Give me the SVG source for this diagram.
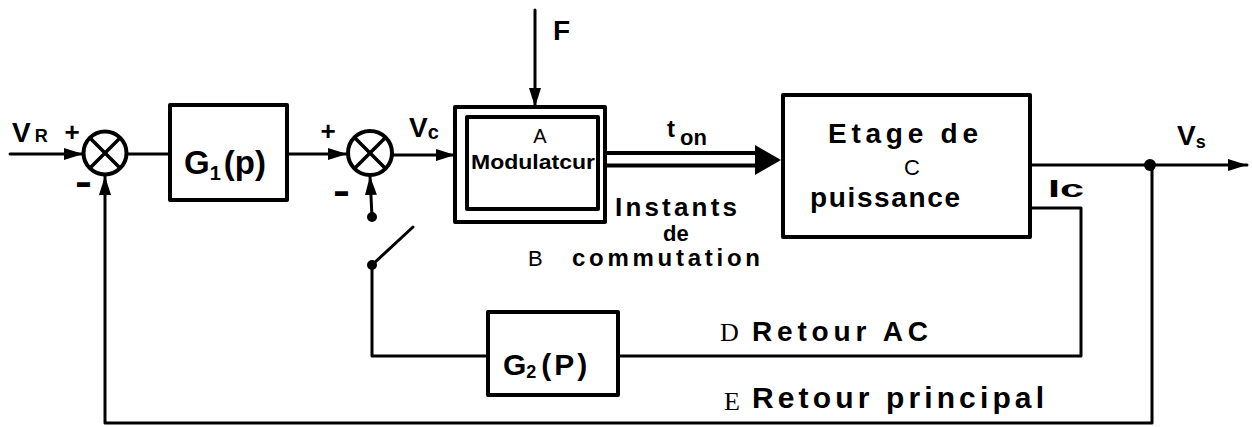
<svg xmlns="http://www.w3.org/2000/svg" width="1252" height="427" viewBox="0 0 1252 427">
<defs>
<marker id="arr" markerUnits="userSpaceOnUse" markerWidth="20" markerHeight="12" refX="19" refY="6" orient="auto">
<path d="M0,0 L19,6 L0,12 Z" fill="#000"/>
</marker>
</defs>
<style>
.ln{fill:none;stroke:#000;stroke-width:3;stroke-linecap:round;stroke-linejoin:round}
.bx{fill:#fff;stroke:#000;stroke-width:4;stroke-linejoin:round}
.cir{fill:#fff;stroke:#000;stroke-width:4}
.x{stroke:#000;stroke-width:3.5;stroke-linecap:round}
.hw{font-family:"Liberation Sans",Arial,sans-serif;font-weight:bold;fill:#000}
.lb{font-family:"Liberation Sans",Arial,sans-serif;font-weight:normal;fill:#000}
.sf{font-family:"Liberation Serif","Times New Roman",serif;font-weight:normal;fill:#000}
.dot{fill:#000}
</style>
<rect width="1252" height="427" fill="#fff"/>

<g id="connectors">
  <line class="ln" x1="10" y1="154" x2="83" y2="154" marker-end="url(#arr)"/>
  <line class="ln" x1="127" y1="154" x2="170" y2="154"/>
  <line class="ln" x1="287" y1="154" x2="347" y2="154" marker-end="url(#arr)"/>
  <line class="ln" x1="393" y1="155" x2="455" y2="155" marker-end="url(#arr)"/>
  <line class="ln" x1="535" y1="10" x2="535" y2="107" marker-end="url(#arr)"/>
  <line class="ln" x1="372" y1="217" x2="370" y2="176" marker-end="url(#arr)"/>
  <circle class="dot" cx="372" cy="217" r="5"/>
  <g id="ton-arrow">
    <line x1="605" y1="153" x2="760" y2="153" stroke="#000" stroke-width="4"/>
    <line x1="605" y1="165.5" x2="760" y2="165.5" stroke="#000" stroke-width="4"/>
    <path d="M755,145 L781,160 L755,175 Z" fill="#000"/>
  </g>
  <line class="ln" x1="1030" y1="165" x2="1247" y2="165" marker-end="url(#arr)"/>
  <circle class="dot" cx="1150" cy="165" r="6"/>
  <polyline class="ln" points="1030,208 1081,208 1081,356 618,356"/>
  <polyline class="ln" points="488,356 372,356 372,265"/>
  <polyline class="ln" points="1152,165 1152,423 105,423 105,176" marker-end="url(#arr)"/>
</g>

<g id="switch">
  <line class="ln" x1="372" y1="265" x2="413" y2="227"/>
  <circle class="dot" cx="372" cy="265" r="5"/>
</g>

<g id="sum1">
  <circle class="cir" cx="105" cy="153" r="21.5"/>
  <line class="x" x1="90" y1="138" x2="120" y2="168"/>
  <line class="x" x1="120" y1="138" x2="90" y2="168"/>
  <text class="hw" x="12" y="142" font-size="28">V<tspan font-size="18" dx="4">R</tspan></text>
  <text class="hw" x="72" y="141" font-size="26" text-anchor="middle">+</text>
  <text class="hw" x="75" y="195" font-size="40" textLength="17" lengthAdjust="spacingAndGlyphs">-</text>
</g>

<g id="G1">
  <rect class="bx" x="170" y="105" width="117" height="95"/>
  <text class="hw" x="184" y="174" font-size="33">G<tspan font-size="20" dy="6">1</tspan><tspan font-size="33" dy="-6" dx="3">(p)</tspan></text>
</g>

<g id="sum2">
  <circle class="cir" cx="370" cy="153" r="22"/>
  <line class="x" x1="355" y1="138" x2="385" y2="168"/>
  <line class="x" x1="385" y1="138" x2="355" y2="168"/>
  <text class="hw" x="328" y="140" font-size="26" text-anchor="middle">+</text>
  <text class="hw" x="333" y="204" font-size="40" textLength="17" lengthAdjust="spacingAndGlyphs">-</text>
  <text class="hw" x="409" y="137" font-size="28">V<tspan font-size="20" dy="2">c</tspan></text>
</g>

<g id="modulateur">
  <rect class="bx" x="455" y="107" width="150" height="115"/>
  <rect class="bx" x="467" y="117" width="131" height="92"/>
  <text class="lb" x="540" y="143" font-size="20" text-anchor="middle">A</text>
  <text class="hw" x="471" y="169" font-size="20" textLength="124" lengthAdjust="spacingAndGlyphs">Modulatcur</text>
  <text class="hw" x="553" y="40" font-size="28">F</text>
</g>

<g id="labels-ton">
  <text class="hw" x="667" y="137" font-size="24">t<tspan font-size="22" dx="5" dy="8">on</tspan></text>
  <text class="hw" x="615" y="216" font-size="26" textLength="122">Instants</text>
  <text class="hw" x="663" y="241" font-size="22">de</text>
  <text class="lb" x="528" y="266" font-size="22">B</text>
  <text class="hw" x="572" y="266" font-size="24" textLength="188">commutation</text>
</g>

<g id="etage">
  <rect class="bx" x="783" y="95" width="247" height="142"/>
  <text class="hw" x="828" y="143" font-size="28" textLength="150">Etage de</text>
  <text class="lb" x="912" y="175" font-size="22" text-anchor="middle">C</text>
  <text class="hw" x="810" y="207" font-size="28" textLength="150">puissance</text>
  <text class="hw" x="1048" y="197" font-size="24" textLength="36" lengthAdjust="spacingAndGlyphs">Ic</text>
  <text class="hw" x="1177" y="145" font-size="28">V<tspan font-size="18" dy="3">s</tspan></text>
</g>

<g id="G2">
  <rect class="bx" x="488" y="312" width="130" height="83"/>
  <text class="hw" x="503" y="375" font-size="30">G<tspan font-size="18" dy="3">2</tspan><tspan font-size="30" dy="-3" dx="5" letter-spacing="3">(P)</tspan></text>
</g>

<g id="feedback-labels">
  <text class="sf" x="720" y="341" font-size="26">D</text>
  <text class="hw" x="752" y="341" font-size="28" textLength="176">Retour AC</text>
  <text class="sf" x="724" y="410" font-size="26">E</text>
  <text class="hw" x="752" y="408" font-size="30" textLength="292">Retour principal</text>
</g>
</svg>
